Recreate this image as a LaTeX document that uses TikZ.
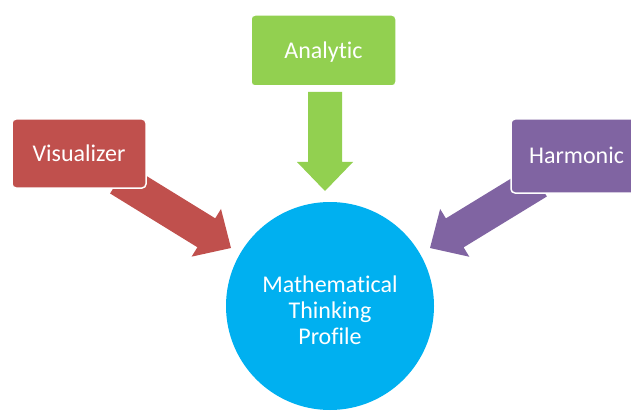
\documentclass[tikz,border=0pt]{standalone}
\usepackage{fontspec}
\setmainfont[Ligatures=NoCommon]{Carlito}
\usetikzlibrary{calc}
\definecolor{cred}{HTML}{C0504D}
\definecolor{cgreen}{HTML}{92D050}
\definecolor{cpurple}{HTML}{8064A2}
\definecolor{cblue}{HTML}{00B0F0}
\newcommand\blkarrow[3]{%
  \coordinate (#2-h) at ($(#3)!29pt!(#2)$);
  \fill[#1] ($(#2)!17pt!90:(#3)$) -- ($(#2-h)!17pt!90:(#3)$) -- ($(#2-h)!28pt!90:(#3)$)
    -- (#3) -- ($(#2-h)!28pt!-90:(#3)$) -- ($(#2-h)!17pt!-90:(#3)$)
    -- ($(#2)!17pt!-90:(#3)$) -- cycle;
}
\begin{document}
\begin{tikzpicture}[x=1pt,y=-1pt,
  boxnode/.style={rectangle, rounded corners=4pt, draw=white, line width=1.5pt,
    text=white, font=\fontsize{24}{26}\selectfont, text height=15.5pt, text depth=0pt,
    inner sep=0pt},
  hub/.style={circle, fill=cblue, inner sep=0pt, minimum size=208pt},
  hubtext/.style={text=white, font=\fontsize{24}{26}\selectfont, align=center, inner sep=0pt}]
\useasboundingbox (0,0) rectangle (631,414);
% arrows (behind boxes)
\coordinate (vs) at (119,179);
\coordinate (vt) at (231,248);
\coordinate (as) at (325,92);
\coordinate (at) at (325,191);
\coordinate (hs) at (538,182);
\coordinate (ht) at (430,248);
\blkarrow{cred}{vs}{vt}
\blkarrow{cgreen}{as}{at}
\blkarrow{cpurple}{hs}{ht}
% boxes
\node[boxnode, fill=cred, minimum width=134pt, minimum height=69pt] (vis) at (79,153.5) {Visualizer};
\node[boxnode, fill=cgreen, minimum width=145pt, minimum height=71pt] (ana) at (323.5,50.5) {Analytic};
\node[boxnode, fill=cpurple, minimum width=131pt, minimum height=74pt] (har) at (576.5,156) {Harmonic};
% hub
\node[hub] (mtp) at (330,306) {};
\node[hubtext] (mtpt) at ($(mtp)+(0,4)$) {Mathematical\\Thinking\\Profile};
\end{tikzpicture}
\end{document}
